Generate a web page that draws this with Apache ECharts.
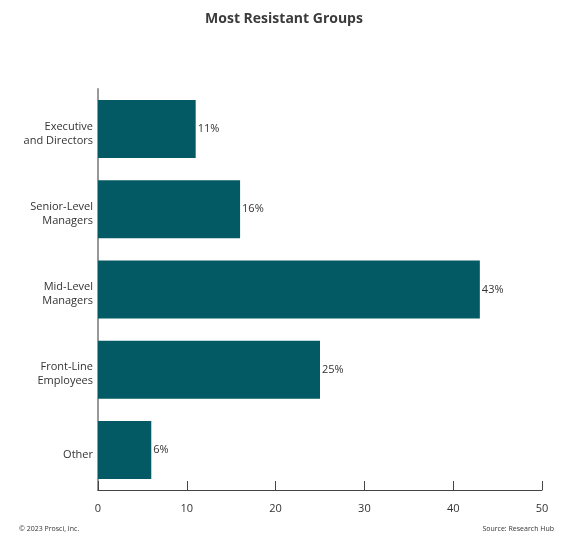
<!DOCTYPE html>
<html><head><meta charset="utf-8">
<script src="https://cdn.jsdelivr.net/npm/echarts@6/dist/echarts.min.js"></script>
<style>html,body{margin:0;padding:0;background:#fff}#c{width:568px;height:538px}</style>
</head><body><div id="c"></div>
<script>
const categories = ["Executive\nand Directors", "Senior-Level\nManagers", "Mid-Level\nManagers", "Front-Line\nEmployees", "Other"];
const values = [11, 16, 43, 25, 6];
const xTicks = [0, 10, 20, 30, 40, 50];

const chart = echarts.init(document.getElementById('c'), null, {renderer: 'canvas'});
const font = "'Open Sans', 'Noto Sans', sans-serif";
chart.setOption({
  animation: false,
  title: {
    text: 'Most Resistant Groups', left: 'center', top: 7,
    textStyle: {fontFamily: font, fontSize: 14, fontWeight: 'bold', color: '#3b3b3b'}
  },
  graphic: [
    {type: 'text', left: 19, top: 525, style: {text: '© 2023 Prosci, Inc.', font: "7px " + font, fill: '#333'}},
    {type: 'text', right: 14, top: 525, style: {text: 'Source: Research Hub', font: "7px " + font, fill: '#333'}}
  ],
  grid: {left: 98, right: 26, top: 89, bottom: 48, containLabel: false},
  xAxis: {
    type: 'value', min: xTicks[0], max: xTicks[xTicks.length - 1], interval: 10,
    axisLine: {show: true, lineStyle: {color: '#444', width: 1}},
    axisTick: {show: true, inside: true, length: 9, lineStyle: {color: '#444', width: 1}},
    splitLine: {show: false},
    axisLabel: {fontFamily: font, fontSize: 11, color: '#333', margin: 13}
  },
  yAxis: {
    type: 'category', inverse: true, data: categories,
    axisLine: {show: true, lineStyle: {color: '#999', width: 2}},
    axisTick: {show: false},
    axisLabel: {
      fontFamily: font, fontSize: 11, color: '#333', margin: 5, lineHeight: 14, align: 'right',
      formatter: v => '{s| }\n' + v.split('\n').map(l => '{t|' + l + '}').join('\n'),
      rich: {
        s: {fontSize: 1, lineHeight: 9, height: 9},
        t: {fontFamily: font, fontSize: 11, color: '#333', lineHeight: 14}
      }
    }
  },
  series: [{
    type: 'bar', data: values, barWidth: 58,
    itemStyle: {color: '#035a64'},
    label: {show: true, position: 'right', distance: 2, formatter: '{c}%', fontFamily: font, fontSize: 11, color: '#333'}
  }]
});
</script></body></html>
